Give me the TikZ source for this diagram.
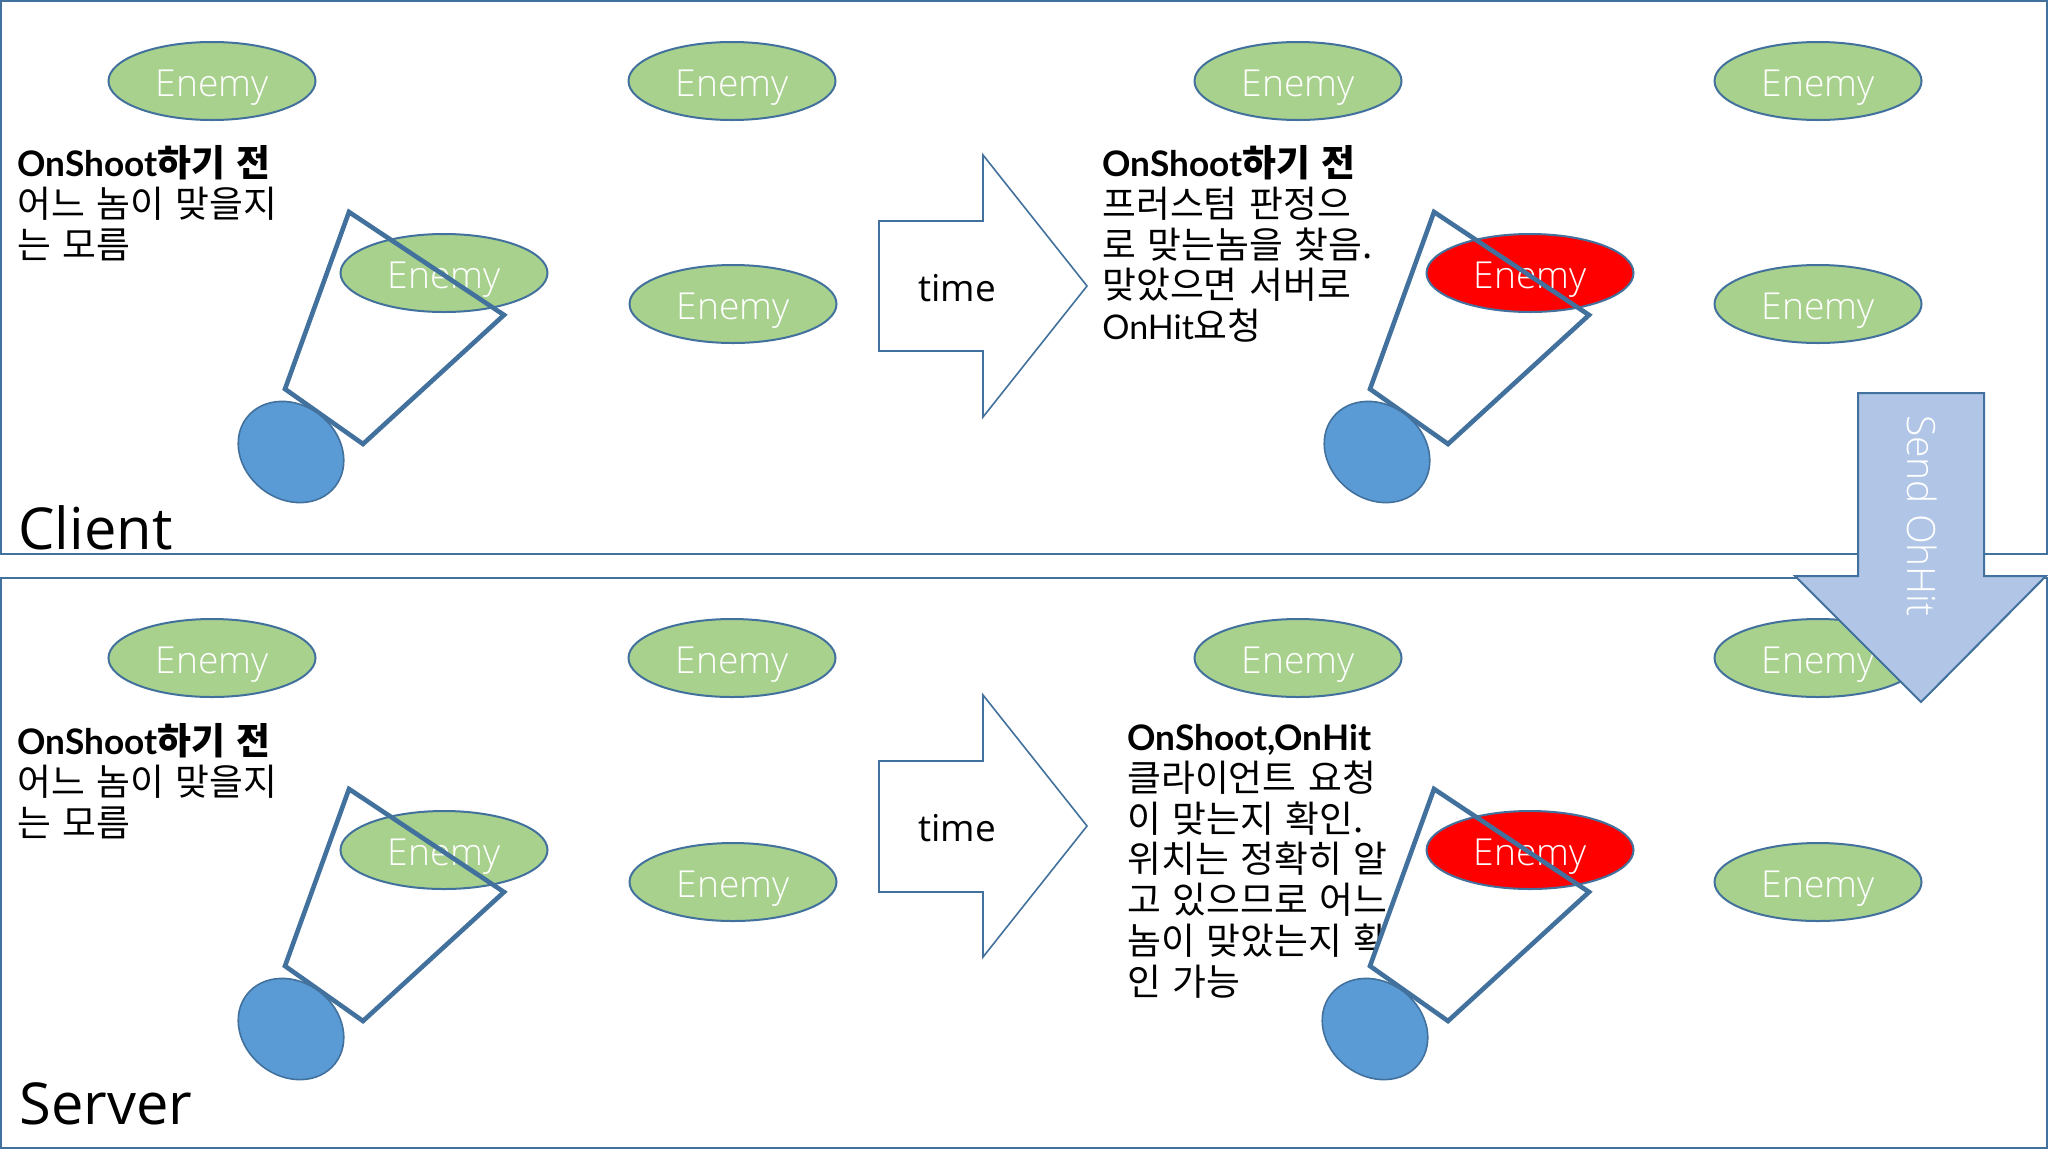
\documentclass[tikz,border=0pt]{standalone}
\usepackage{fontspec}
\usetikzlibrary{shapes.geometric}
\setmainfont{Open Sans}
\newfontfamily\lightfont{Open Sans Light}
\newfontfamily\krfont[WordSpace=1.4]{Noto Sans CJK KR}
\newfontfamily\latinbold{Lato Bold}
\newfontfamily\latinreg{Lato}
\definecolor{edge}{HTML}{41719C}
\definecolor{enemygreen}{HTML}{A9D18E}
\definecolor{bodyblue}{HTML}{5B9BD5}
\definecolor{sendblue}{HTML}{B1C5E6}
\newcommand{\enemyword}{\raisebox{-7.9pt}[0pt][0pt]{Enemy}}
\newcommand{\lb}[1]{{\latinbold\fontsize{17.6}{20.4}\selectfont #1}}
\newcommand{\lr}[1]{{\latinreg\fontsize{17}{20.4}\selectfont #1}}
\tikzset{
  panel/.style={draw=edge,line width=1pt},
  enemy/.style={ellipse,draw=edge,line width=1pt,fill=enemygreen,text=white,inner sep=0pt,minimum width=103.5pt,minimum height=39pt,font=\lightfont\fontsize{18.6}{20}\selectfont},
  hitenemy/.style={enemy,fill=red},
  player/.style={ellipse,draw=edge,line width=.8pt,fill=bodyblue,inner sep=0pt,minimum width=56pt,minimum height=47pt,rotate=-38},
  conefill/.style={fill=white},
  coneline/.style={draw=edge,line width=2.3pt,line join=miter},
  timearrow/.style={draw=edge,line width=.8pt,fill=white},
  timelabel/.style={font=\fontsize{18.5}{20}\selectfont,text=black,inner sep=0pt},
  note/.style={anchor=north west,align=left,inner sep=0pt,text=black,font=\krfont\fontsize{18.4}{20.4}\selectfont},
  sidelabel/.style={anchor=base west,inner sep=0pt,text=black},
}
\newcommand{\conepath}{(349,212) -- (504,315) -- (363,444) -- (285,389) -- cycle}
\begin{document}
\begin{tikzpicture}[x=.5pt,y=-.5pt]
\useasboundingbox (0,0) rectangle (2048,1152);
\fill[white] (0,0) rectangle (2048,1152);
% panels
\draw[panel] (1,1) rectangle (2047,554);
\draw[panel] (1,578) rectangle (2047,1148);
% notes
\node[note] (n1) at (17,145) {\lb{OnShoot}\textbf{하기 전}\\어느 놈이 맞을지\\는 모름};
\node[note] (n2) at (1102,145) {\lb{OnShoot}\textbf{하기 전}\\프러스텀 판정으\\로 맞는놈을 찾음.\\맞았으면 서버로\\\lr{OnHit}요청};
\node[note] (n3) at (17,723) {\lb{OnShoot}\textbf{하기 전}\\어느 놈이 맞을지\\는 모름};
\node[note] (n4) at (1127,724) {\lb{OnShoot,OnHit}\\클라이언트 요청\\이 맞는지 확인.\\위치는 정확히 알\\고 있으므로 어느\\놈이 맞았는지 확\\인 가능};
% cone interiors
\foreach \dx/\dy in {0/0,1085/0,0/577,1085/577}
  \path[conefill,shift={(\dx,\dy)}] \conepath;
% enemies
\node[enemy] (e1) at (212,81) {\enemyword};
\node[enemy] (e2) at (732,81) {\enemyword};
\node[enemy] (e3) at (1298,81) {\enemyword};
\node[enemy] (e4) at (1818,81) {\enemyword};
\node[enemy] (e5) at (444,273) {\enemyword};
\node[enemy] (e6) at (733,304) {\enemyword};
\node[hitenemy] (e7) at (1530,273) {\enemyword};
\node[enemy] (e8) at (1818,304) {\enemyword};
\node[enemy] (e9) at (212,658) {\enemyword};
\node[enemy] (e10) at (732,658) {\enemyword};
\node[enemy] (e11) at (1298,658) {\enemyword};
\node[enemy] (e12) at (1818,658) {\enemyword};
\node[enemy] (e13) at (444,850) {\enemyword};
\node[enemy] (e14) at (733,882) {\enemyword};
\node[hitenemy] (e15) at (1530,850) {\enemyword};
\node[enemy] (e16) at (1818,882) {\enemyword};
% cone outlines
\foreach \dx/\dy in {0/0,1085/0,0/577,1085/577}
  \draw[coneline,shift={(\dx,\dy)}] \conepath;
% players
\node[player] (p1) at (291,452) {};
\node[player] (p2) at (1377,452) {};
\node[player] (p3) at (291,1029) {};
\node[player] (p4) at (1375,1029) {};
% time arrows
\draw[timearrow] (879,221) -- (983,221) -- (983,155) -- (1087,286) -- (983,417) -- (983,351) -- (879,351) -- cycle;
\node[timelabel] (t1) at (957,288) {time};
\draw[timearrow] (879,761) -- (983,761) -- (983,695) -- (1087,826) -- (983,957) -- (983,892) -- (879,892) -- cycle;
\node[timelabel] (t2) at (957,828) {time};
% send arrow
\draw[draw=edge,line width=1pt,fill=sendblue,line join=miter] (1858,393) -- (1984,393) -- (1984,576) -- (2046,576) -- (1921,702) -- (1795,576) -- (1858,576) -- cycle;
\node[font=\lightfont\fontsize{19.5}{20}\selectfont,text=white,rotate=-90,inner sep=0pt] (s) at (1922,516) {Send OhHit};
% side labels
\node[sidelabel,font=\fontsize{28.9}{30}\selectfont] (c) at (18,549) {Client};
\node[sidelabel,font=\fontsize{28.9}{30}\selectfont] (v) at (19,1124) {Server};
\end{tikzpicture}
\end{document}
